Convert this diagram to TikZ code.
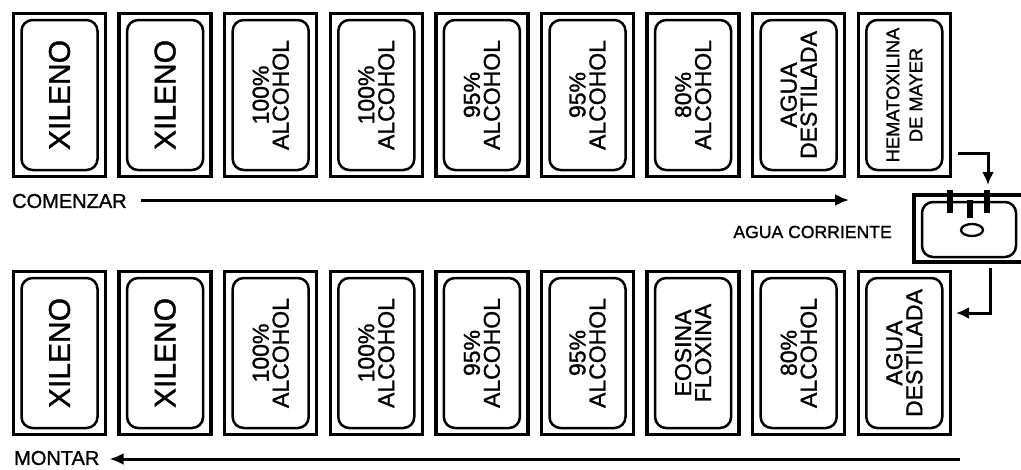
\documentclass[tikz,border=0pt]{standalone}
\usepackage{fontspec}
\setmainfont{Liberation Sans}[UprightFeatures={FakeBold=1.2}]
\usetikzlibrary{arrows.meta}
\tikzset{
  outerbox/.style={draw, line width=3.4pt, minimum width=92pt, minimum height=163pt, inner sep=0pt},
  innerbox/.style={draw, line width=2.5pt, rounded corners=11pt, minimum width=150pt, minimum height=76pt, inner sep=0pt, rotate=90, align=center},
  big/.style={font=\fontsize{30}{30}\selectfont},
  two/.style={font=\fontsize{23}{20}\selectfont},
  hema/.style={font=\fontsize{18.3}{23}\selectfont},
  arr/.style={line width=3pt, -{Latex[length=14pt,width=12pt]}},
  lbl/.style={inner sep=0pt, font=\fontsize{20}{20}\selectfont},
  post/.style={line width=6.5pt}
}
\begin{document}
\begin{tikzpicture}[x=1pt,y=-1pt]
\useasboundingbox (0,0) rectangle (1021,469);
% top row
\foreach \i/\st/\txt in {1/big/XILENO, 2/big/XILENO, 3/two/100\%\\ALCOHOL, 4/two/100\%\\ALCOHOL, 5/two/95\%\\ALCOHOL, 6/two/95\%\\ALCOHOL, 7/two/80\%\\ALCOHOL, 8/two/AGUA\\DESTILADA, 9/hema/HEMATOXILINA\\DE MAYER}{
  \node[outerbox] (t\i) at ({59.5+105.6*(\i-1)}, 95) {};
  \node[innerbox, \st] (ti\i) at (t\i.center) {\txt};
}
% bottom row
\foreach \i/\st/\txt in {1/big/XILENO, 2/big/XILENO, 3/two/100\%\\ALCOHOL, 4/two/100\%\\ALCOHOL, 5/two/95\%\\ALCOHOL, 6/two/95\%\\ALCOHOL, 7/two/EOSINA\\FLOXINA, 8/two/80\%\\ALCOHOL, 9/two/AGUA\\DESTILADA}{
  \node[outerbox] (b\i) at ({59.5+105.6*(\i-1)}, 353) {};
  \node[innerbox, \st] (bi\i) at (b\i.center) {\txt};
}
% labels
\node[lbl, anchor=west] (com) at (12,201) {COMENZAR};
\coordinate (comEnd) at (849,200);
\draw[arr] ([xshift=14pt]com.east |- comEnd) -- (comEnd);

\node[lbl, anchor=west] (mon) at (14,458) {MONTAR};
\coordinate (monStart) at (960,459);
\draw[arr] (monStart) -- ([xshift=10pt]mon.east |- monStart);

\node[inner sep=0pt, anchor=east, font=\fontsize{17.6}{18}\selectfont] (agua) at (892,232) {AGUA CORRIENTE};

% tray
\draw[line width=3.4pt] (1022,195) -- (914,195) -- (914,262) -- (1022,262);
\draw[line width=2.5pt, rounded corners=11pt] (922,202) rectangle (1016,257);
\coordinate (tray) at (968,230);
\draw[line width=2.3pt] (972,230) ellipse [x radius=11, y radius=6];
\draw[post] (950,190) -- (950,213);
\draw[post] (970,200) -- (970,218);
\draw[post] (987,190) -- (987,213);

% connectors to and from tray
\coordinate (inA) at (958,153);
\coordinate (inB) at (988,185);
\draw[line width=3pt, -{Latex[length=13pt,width=12pt]}] (inA) -| (inB);
\coordinate (outA) at (990,268);
\coordinate (outB) at ([xshift=4pt]b9.east |- 0,313);
\draw[line width=3pt, -{Latex[length=13pt,width=12pt]}] (outA) |- (outB);
\end{tikzpicture}
\end{document}
